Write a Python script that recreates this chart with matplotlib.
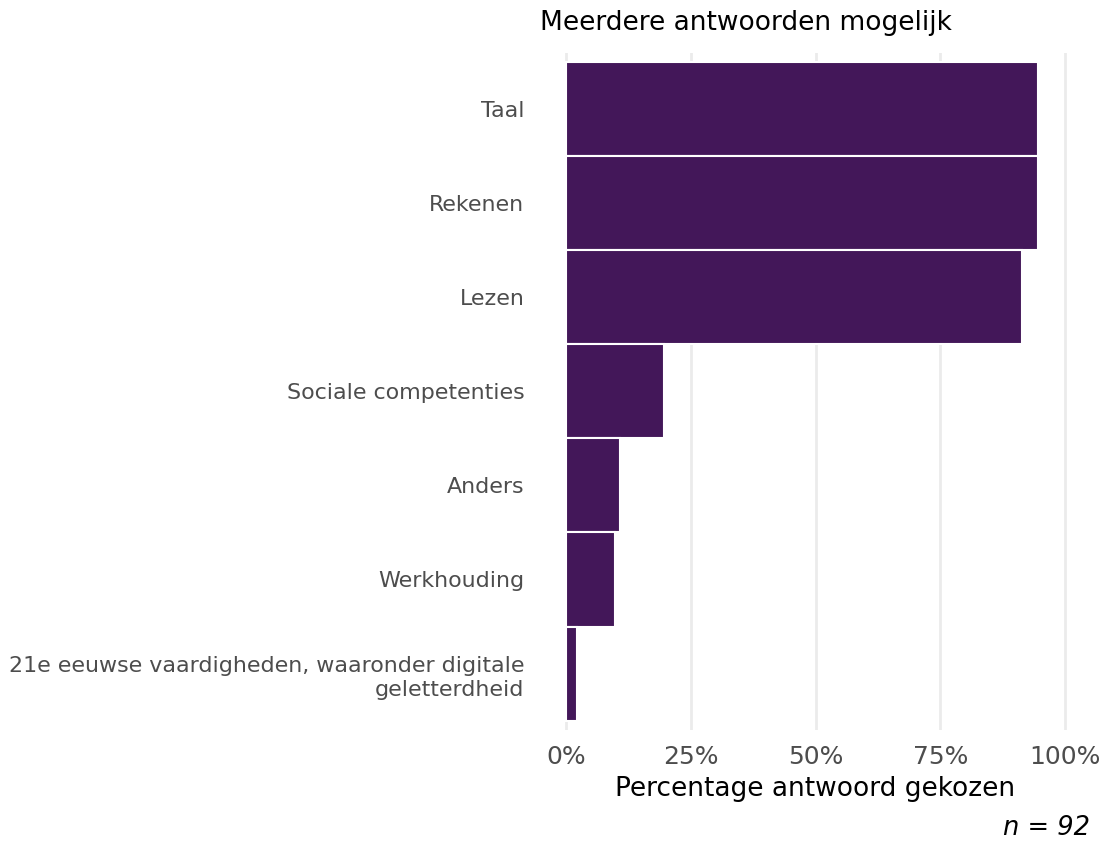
import numpy as np
import matplotlib.pyplot as plt
import matplotlib.ticker as ticker

# Data (n = 92, meerdere antwoorden mogelijk)
categorieen = ['Taal', 'Rekenen', 'Lezen', 'Sociale competenties', 'Anders',
               'Werkhouding', '21e eeuwse vaardigheden, waaronder digitale\ngeletterdheid']
aantallen = [87, 87, 84, 18, 10, 9, 2]
n_totaal = 92
percentages = [a / n_totaal for a in aantallen]
x_ticks = [0, 0.25, 0.5, 0.75, 1.0]
x_labels = ['0%', '25%', '50%', '75%', '100%']

plt.rcParams['font.family'] = ['DejaVu Sans']

fig = plt.figure(figsize=(11.15, 8.41), dpi=100)
ax = fig.add_axes([541 / 1115, 1 - 730 / 841, (1090 - 541) / 1115, (730 - 52.6) / 841])

ypos = np.arange(len(categorieen))
ax.barh(ypos, percentages, height=1.0, color='#431759', edgecolor='white',
        linewidth=1.5, zorder=3)

ax.set_xlim(-0.05, 1.05)
ax.set_ylim(len(categorieen) - 0.4, -0.6)
ax.set_xticks(x_ticks)
ax.set_xticklabels(x_labels)
ax.set_yticks(ypos)
ax.set_yticklabels(categorieen)

ax.grid(axis='x', color='#ebebeb', linewidth=2, zorder=0)
ax.grid(axis='y', visible=False)
for s in ax.spines.values():
    s.set_visible(False)

ax.tick_params(axis='y', length=0, pad=12, labelsize=15.9, labelcolor='#4d4d4d')
ax.tick_params(axis='x', length=0, pad=11, labelsize=18, labelcolor='#4d4d4d')
for lbl in ax.get_yticklabels():
    lbl.set_multialignment('right')
    lbl.set_linespacing(1.25)

ax.set_xlabel('Percentage antwoord gekozen', fontsize=19, color='black', labelpad=5)
ax.set_title('Meerdere antwoorden mogelijk', fontsize=19, loc='left', pad=16, x=-0.002)

fig.text(1090 / 1115, 1 - 828 / 841, f'n = {n_totaal}', fontsize=18.5, style='italic',
         ha='right', va='center')

plt.savefig('out.png', dpi=100)
